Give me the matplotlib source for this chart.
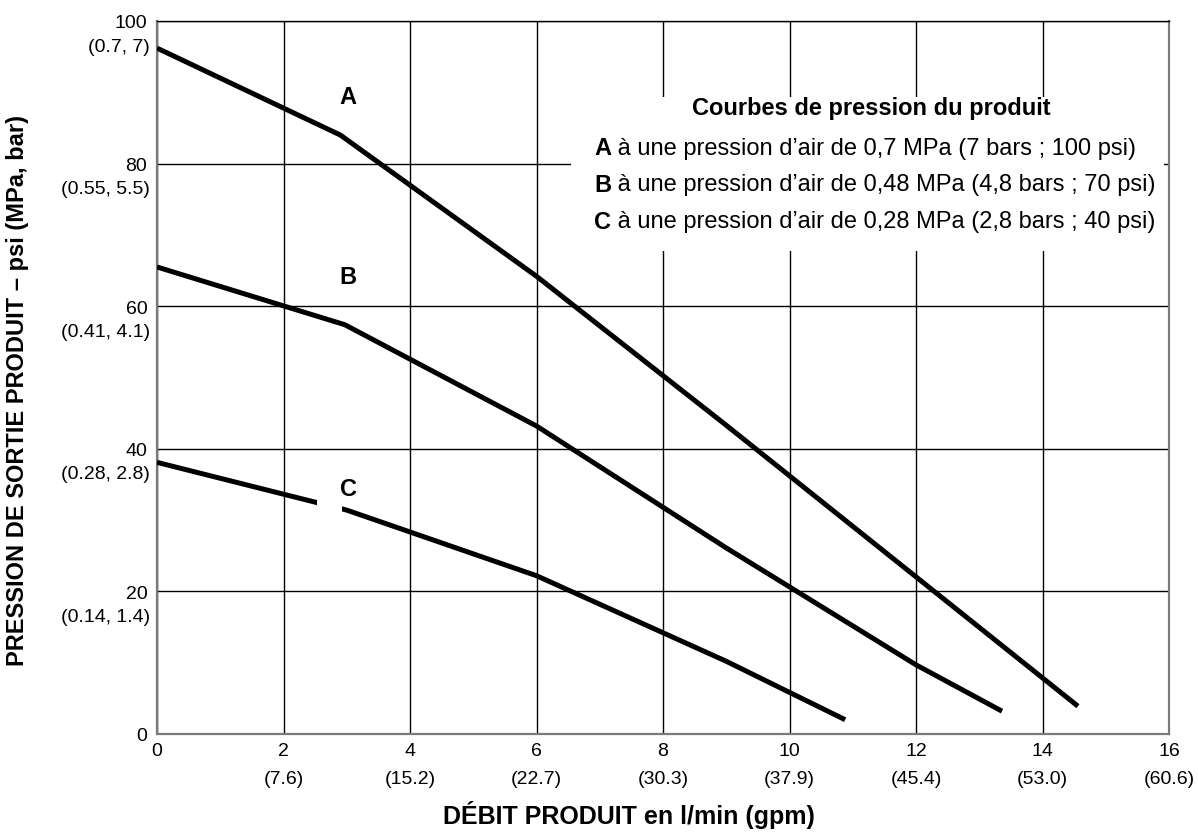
import matplotlib
matplotlib.use("Agg")
import matplotlib.pyplot as plt
from matplotlib.patches import Rectangle

plt.rcParams['font.family'] = ['Liberation Sans', 'DejaVu Sans']

# courbes (debit gpm, pression psi)
a_x = [0, 2.9, 6, 9, 14.56]
a_y = [96.2, 84.0, 64.2, 43.3, 3.9]
b_x = [0, 2.97, 6, 9, 12, 13.36]
b_y = [65.5, 57.4, 43.2, 26.1, 9.7, 3.2]
c_x = [0, 3.0, 6, 9, 10.88]
c_y = [38.1, 31.4, 22.2, 10.2, 2.0]

x_ticks = [0, 2, 4, 6, 8, 10, 12, 14, 16]
x_sub = ['', '(7.6)', '(15.2)', '(22.7)', '(30.3)', '(37.9)', '(45.4)', '(53.0)', '(60.6)']
y_ticks = [0, 20, 40, 60, 80, 100]
y_sub = ['', '(0.14, 1.4)', '(0.28, 2.8)', '(0.41, 4.1)', '(0.55, 5.5)', '(0.7, 7)']

legend_title = 'Courbes de pression du produit'
legend_rows = [('A', ' à une pression d’air de 0,7 MPa (7 bars ; 100 psi)'),
               ('B', ' à une pression d’air de 0,48 MPa (4,8 bars ; 70 psi)'),
               ('C', ' à une pression d’air de 0,28 MPa (2,8 bars ; 40 psi)')]

fs = 14      # graduations
fs_leg = 17  # cartouche et etiquettes

fig = plt.figure(figsize=(11.98, 8.37), dpi=100)
ax = fig.add_axes([157/1198, 102/837, 1012/1198, 713/837])

for xs, ys in [(a_x, a_y), (b_x, b_y), (c_x, c_y)]:
    ax.plot(xs, ys, color='black', lw=3.6, zorder=3, solid_capstyle='butt')

ax.set_xlim(0, 16)
ax.set_ylim(0, 100)
ax.set_xticks(x_ticks)
ax.set_yticks(y_ticks)
ax.set_xticklabels([str(v) for v in x_ticks], fontsize=fs)
ax.set_yticklabels([str(v) for v in y_ticks], fontsize=fs)
ax.tick_params(length=0)
ax.tick_params(axis='x', pad=6)
ax.tick_params(axis='y', pad=7)
ax.grid(True, color='black', lw=1.0)

for s in ['left', 'bottom', 'right']:
    ax.spines[s].set_color('#7a7a7a')
    ax.spines[s].set_linewidth(1.6)
ax.spines['top'].set_color('black')
ax.spines['top'].set_linewidth(1.0)

# libelles secondaires
for v, s in zip(x_ticks, x_sub):
    if s:
        ax.annotate(s, xy=(v, 0), xycoords=('data', 'axes fraction'), xytext=(0, -32),
                    textcoords='offset points', ha='center', va='center', fontsize=fs)
for v, s in zip(y_ticks, y_sub):
    if s:
        ax.annotate(s, xy=(0, v), xycoords=('axes fraction', 'data'), xytext=(-5, -18),
                    textcoords='offset points', ha='right', va='center', fontsize=fs)

# etiquettes des courbes
ax.text(3.02, 89.4, 'A', fontsize=fs_leg, fontweight='bold', ha='center', va='center', zorder=4)
ax.text(3.02, 64.2, 'B', fontsize=fs_leg, fontweight='bold', ha='center', va='center', zorder=4)
ax.add_patch(Rectangle((2.53, 30.5), 0.39, 4.0, facecolor='white', edgecolor='none', zorder=3.5))
ax.text(3.02, 34.4, 'C', fontsize=fs_leg, fontweight='bold', ha='center', va='center', zorder=4)

# cartouche de legende
ax.add_patch(Rectangle((0.409, 0.677), 0.586, 0.216, transform=ax.transAxes,
                       facecolor='white', edgecolor='none', zorder=1.8))
ax.text(0.7055, 0.878, legend_title, transform=ax.transAxes, fontsize=fs_leg,
        fontweight='bold', ha='center', va='center', zorder=4)
for i, (k, txt) in enumerate(legend_rows):
    yy = 0.822 - i * 0.0513
    tb = ax.text(0.432, yy, k, transform=ax.transAxes, fontsize=fs_leg, fontweight='bold',
                 ha='left', va='center', zorder=4)
    ax.annotate(txt, xy=(1, 0.5), xycoords=tb, ha='left', va='center', fontsize=fs_leg, zorder=4)

fig.text(18/1198, 1 - 391/837, 'PRESSION DE SORTIE PRODUIT – psi (MPa, bar)',
         rotation=90, ha='center', va='center', fontsize=17, fontweight='bold')
fig.text(629/1198, 1 - 815/837, 'DÉBIT PRODUIT en l/min (gpm)',
         ha='center', va='center', fontsize=18, fontweight='bold')

fig.savefig('out.png', dpi=100)
